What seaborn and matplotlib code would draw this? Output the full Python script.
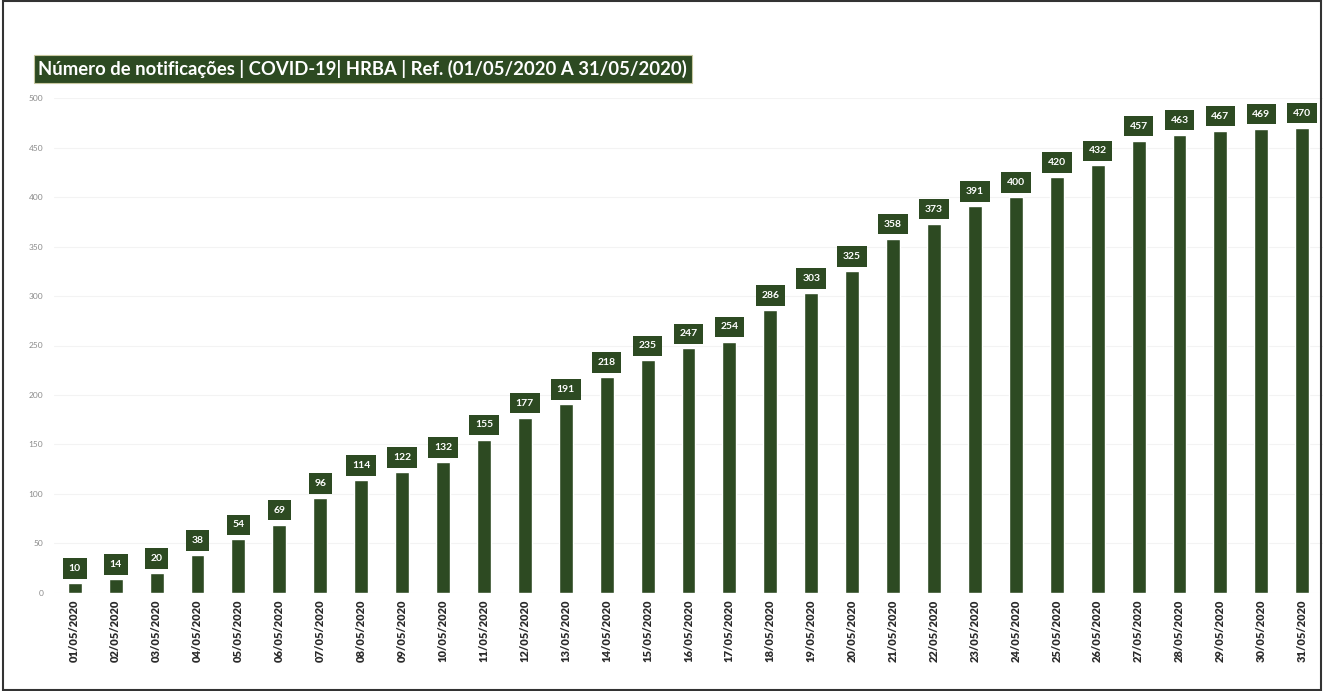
import matplotlib
matplotlib.use("Agg")
import matplotlib.pyplot as plt
import seaborn as sns
import pandas as pd
from matplotlib.patches import Rectangle

dates = [f"{d:02d}/05/2020" for d in range(1, 32)]
notificacoes = [10, 14, 20, 38, 54, 69, 96, 114, 122, 132, 155, 177, 191, 218,
                235, 247, 254, 286, 303, 325, 358, 373, 391, 400, 420, 432,
                457, 463, 467, 469, 470]
y_ticks = [0, 50, 100, 150, 200, 250, 300, 350, 400, 450, 500]
title = "Número de notificações | COVID-19| HRBA | Ref. (01/05/2020 A 31/05/2020)"

GREEN = "#2d4a22"

sns.set_theme(style="white")
plt.rcParams["font.family"] = ["Lato", "DejaVu Sans"]

df = pd.DataFrame({"data": dates, "valor": notificacoes})

fig = plt.figure(figsize=(13.24, 6.91), dpi=100)
ax = fig.add_axes([0.041, 0.142, 0.958, 0.716])

sns.barplot(data=df, x="data", y="valor", color=GREEN, saturation=1,
            width=0.34, ax=ax, zorder=3)

ax.set_ylim(0, 500)
ax.set_xlim(-0.5, len(dates) - 0.5)
ax.set_yticks(y_ticks)
ax.set_yticklabels([str(v) for v in y_ticks], fontsize=6, color="#8a8a8a")
ax.tick_params(axis="y", length=0, pad=8)
ax.tick_params(axis="x", length=0, pad=5)
plt.setp(ax.get_xticklabels(), rotation=90, fontsize=8, color="#2a2a2a",
         fontweight="heavy")
ax.set_xlabel("")
ax.set_ylabel("")
ax.grid(axis="y", color="#f3f3f3", linewidth=0.8, zorder=0)
sns.despine(ax=ax, left=True, bottom=True)

# Value labels in dark boxes above each bar
for i, v in enumerate(notificacoes):
    ax.annotate(str(v), xy=(i, v), xytext=(0, 10.5), textcoords="offset points",
                ha="center", va="center", fontsize=7.5, fontweight="bold",
                color="white", annotation_clip=False, zorder=4,
                bbox=dict(boxstyle="square,pad=0.55", fc=GREEN, ec="none"))

# Title banner
fig.text(0.029, 0.900, title, ha="left", va="center", fontsize=13.3,
         fontweight="bold", color="white",
         bbox=dict(boxstyle="square,pad=0.25", fc=GREEN, ec="#c8c8a0", lw=0.8))

# Frame around the figure
fig.patches.append(Rectangle((0.002, 0.002), 0.996, 0.996, transform=fig.transFigure,
                             fill=False, ec="#333333", lw=1.5))

fig.savefig("out.png", dpi=100)
